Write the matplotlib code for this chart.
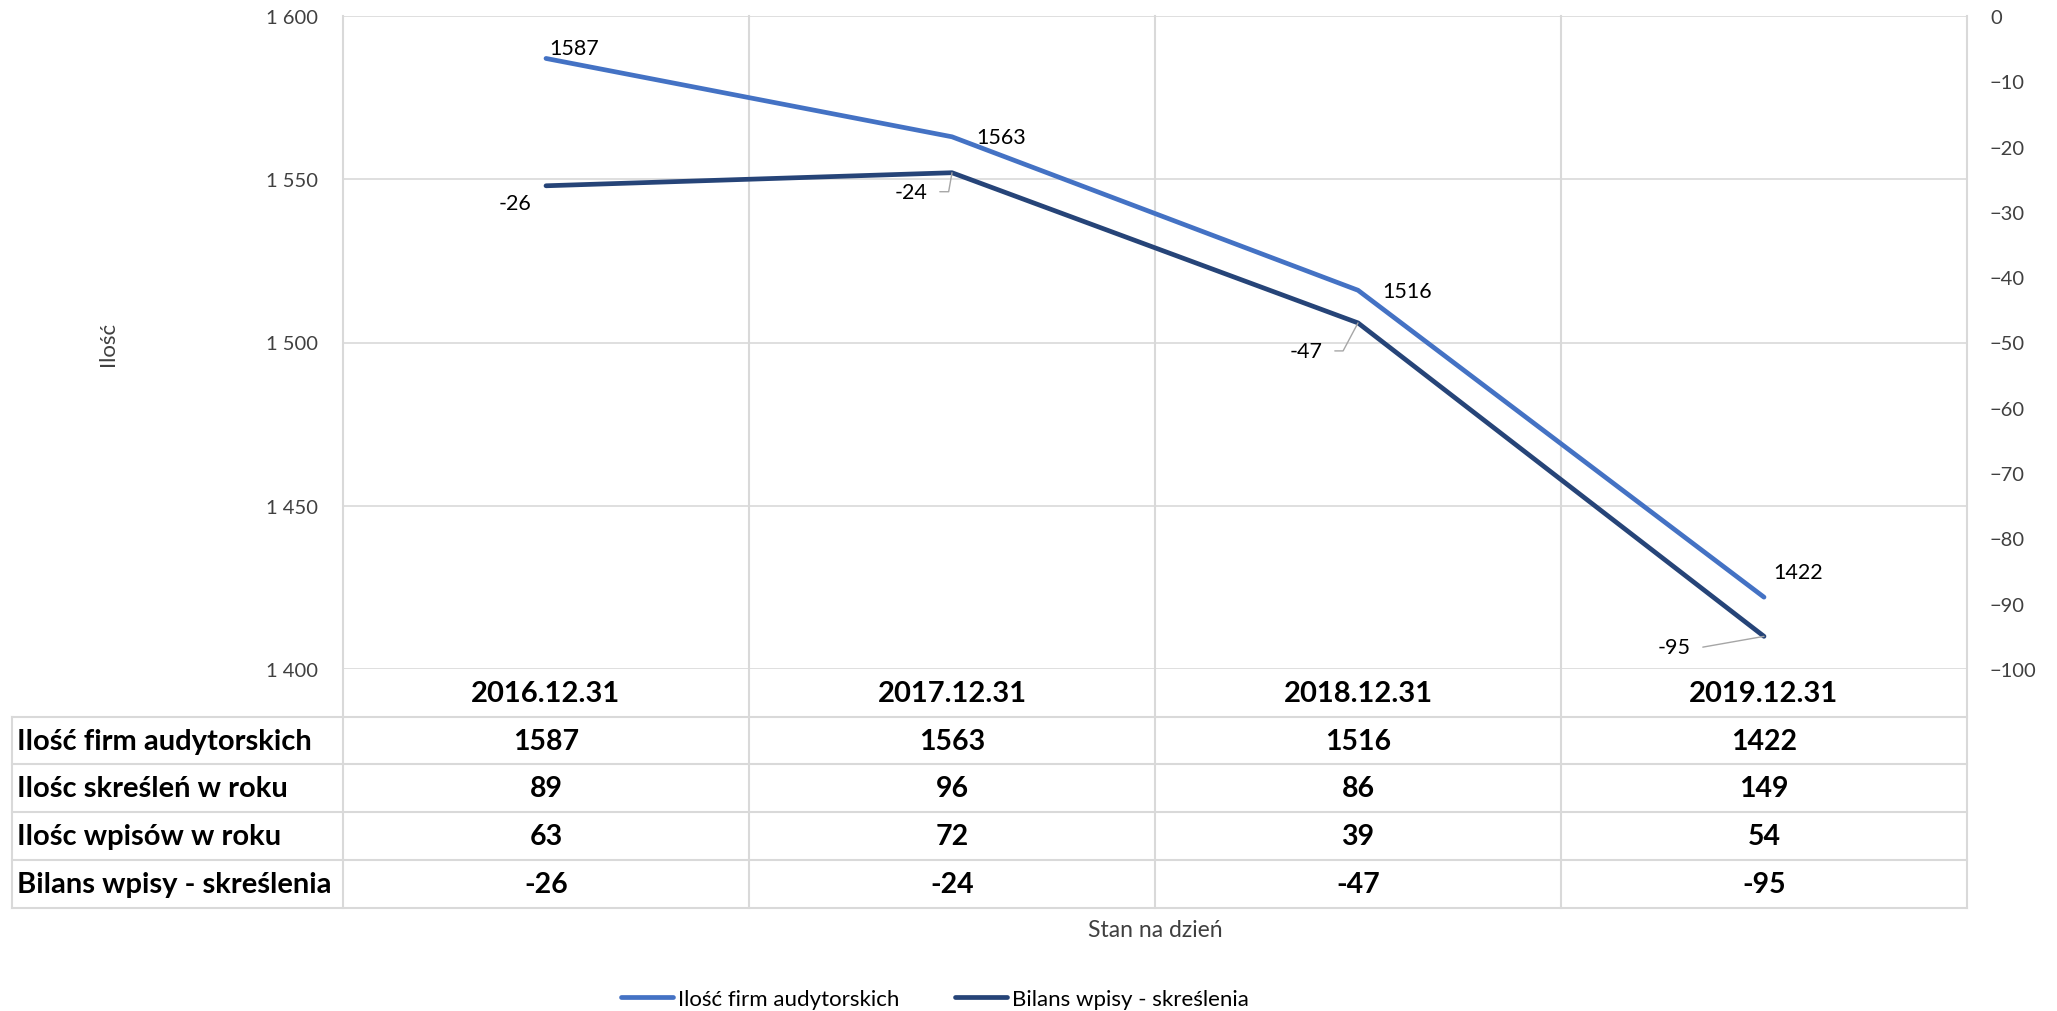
import matplotlib.pyplot as plt
from matplotlib.lines import Line2D
from matplotlib.transforms import blended_transform_factory

dates = ["2016.12.31", "2017.12.31", "2018.12.31", "2019.12.31"]
firms = [1587, 1563, 1516, 1422]
removed = [89, 96, 86, 149]
added = [63, 72, 39, 54]
balance = [-26, -24, -47, -95]

row_names = [
    "Ilość firm audytorskich",
    "Ilośc skreśleń w roku",
    "Ilośc wpisów w roku",
    "Bilans wpisy - skreślenia",
]
left_ticks = [1400, 1450, 1500, 1550, 1600]
right_ticks = list(range(-100, 1, 10))

BLUE = "#4472C4"
NAVY = "#264478"
GRID = "#D9D9D9"
TICK = "#404040"

plt.rcParams["font.family"] = ["Lato", "DejaVu Sans"]


def plot():
    fig = plt.figure(figsize=(20.57, 10.12), dpi=100)
    W, H = 2057, 1012
    ax = fig.add_axes([343 / W, 1 - 670 / H, 1624 / W, 653 / H])
    ax2 = ax.twinx()

    x = list(range(len(dates)))
    (l1,) = ax.plot(x, firms, color=BLUE, lw=3.4, solid_capstyle="round",
                    label="Ilość firm audytorskich", zorder=3)
    (l2,) = ax2.plot(x, balance, color=NAVY, lw=3.4, solid_capstyle="round",
                     label="Bilans wpisy - skreślenia", zorder=3)

    ax.set_xlim(-0.5, len(dates) - 0.5)
    ax.set_ylim(1400, 1600)
    ax2.set_ylim(-100, 0)
    ax.set_xticks([])
    ax.set_yticks(left_ticks)
    ax.set_yticklabels([f"{v:,}".replace(",", " ") for v in left_ticks])
    ax2.set_yticks(right_ticks)
    ax.tick_params(axis="y", length=0, pad=18, labelsize=14.5, labelcolor=TICK)
    ax2.tick_params(axis="y", length=0, pad=16.5, labelsize=14.5, labelcolor=TICK)
    for a in (ax, ax2):
        for s in a.spines.values():
            s.set_visible(False)
    ax.yaxis.grid(True, color=GRID, lw=1.2, zorder=0)

    ax.set_ylabel("Ilość", fontsize=16, color=TICK)
    ax.yaxis.set_label_coords((118 - 343) / 1624, 0.5)

    # data labels
    blue_off = [(3, 10), (24, 0), (24, -1), (9, 25)]
    for i, v in enumerate(firms):
        ax.annotate(str(v), (i, v), xytext=blue_off[i], textcoords="offset pixels",
                    ha="left", va="center", fontsize=15.5, color="black")
    navy_off = [(-15, -17), (-24, -19), (-35, -28), (-73, -11)]
    leader_ang = [None, 80, 62, 10]
    for i, v in enumerate(balance):
        props = None
        if leader_ang[i] is not None:
            props = dict(arrowstyle="-", color="#A6A6A6", lw=1.0, shrinkA=6.5,
                         shrinkB=0, relpos=(1, 0.5),
                         connectionstyle=f"angle,angleA=0,angleB={leader_ang[i]},rad=0")
        ax2.annotate(str(v), (i, v), xytext=navy_off[i], textcoords="offset pixels",
                     ha="right", va="center", fontsize=15.5, color="black",
                     arrowprops=props)

    # data table below the plot
    trans = blended_transform_factory(ax.transData, ax.transAxes)
    row_h = 47.7 / 653
    n_rows = len(row_names) + 1
    left_x = -0.5 - (343 - 12) / 406
    for k in range(1, n_rows + 1):
        ax.add_line(Line2D([left_x, len(dates) - 0.5], [-k * row_h, -k * row_h],
                           transform=trans, color=GRID, lw=1.5, clip_on=False))
    ax.add_line(Line2D([left_x, left_x], [-row_h, -n_rows * row_h],
                       transform=trans, color=GRID, lw=1.5, clip_on=False))
    for i in range(len(dates) + 1):
        ax.add_line(Line2D([i - 0.5, i - 0.5], [1, -n_rows * row_h],
                           transform=trans, color=GRID, lw=1.5, clip_on=False))

    for i, d in enumerate(dates):
        ax.text(i, -0.5 * row_h, d, transform=trans, ha="center", va="center",
                fontsize=21, weight="bold", clip_on=False)
    rows = [firms, removed, added, balance]
    for r, (name, vals) in enumerate(zip(row_names, rows)):
        y = -(r + 1.5) * row_h
        ax.text(left_x + 5 / 406, y, name, transform=trans, ha="left",
                va="center", fontsize=21, weight="bold", clip_on=False)
        for i, v in enumerate(vals):
            ax.text(i, y, str(v), transform=trans, ha="center", va="center",
                    fontsize=20.5, weight="bold", clip_on=False)

    ax.text(0.5, -(931 - 670) / 653, "Stan na dzień", transform=ax.transAxes,
            ha="center", va="center", fontsize=16.5, color=TICK)

    fig.legend([l1, l2], [l1.get_label(), l2.get_label()], loc="center",
               bbox_to_anchor=(935 / W, 12 / H), ncol=2, frameon=False,
               fontsize=16, handlelength=2.35, handletextpad=0.23,
               columnspacing=2.5)

    fig.savefig("out.png", dpi=100)


if __name__ == "__main__":
    plot()
